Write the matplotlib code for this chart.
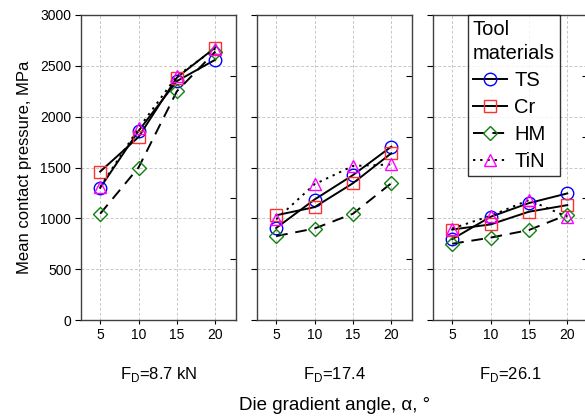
import matplotlib
matplotlib.use("Agg")
import matplotlib.pyplot as plt
from matplotlib.lines import Line2D

plt.rcParams['font.family'] = ['Liberation Sans', 'DejaVu Sans']

angles = [5, 10, 15, 20]
panel_labels = ["F$_\\mathregular{D}$=8.7 kN", "F$_\\mathregular{D}$=17.4", "F$_\\mathregular{D}$=26.1"]
materials = ["TS", "Cr", "HM", "TiN"]

ts_vals = [[1300, 1860, 2350, 2560], [905, 1185, 1425, 1705], [795, 1015, 1150, 1245]]
cr_vals = [[1460, 1800, 2385, 2680], [1030, 1110, 1345, 1640], [890, 940, 1065, 1130]]
hm_vals = [[1045, 1500, 2250, 2640], [825, 900, 1045, 1345], [750, 810, 885, 1035]]
tin_vals = [[1310, 1885, 2400, 2670], [990, 1335, 1515, 1530], [900, 1025, 1180, 1015]]

series = [ts_vals, cr_vals, hm_vals, tin_vals]
colors = ["#0000ff", "#ff3030", "#108010", "#ff00ff"]
markers = ["o", "s", "D", "^"]
msizes = [9, 9, 7, 9]
styles = ["-", "-", (0, (6, 4)), (0, (1.2, 2.5))]

fig = plt.figure(figsize=(5.85, 4.18), dpi=100)
lefts = [81 / 585, 257 / 585, 433 / 585]
width = 155 / 585
bottom = (418 - 320) / 418
height = 305 / 418

for p in range(3):
    ax = fig.add_axes([lefts[p], bottom, width, height])
    for s in range(4):
        ax.plot(angles, series[s][p], linestyle=styles[s], color='black', lw=1.4,
                marker=markers[s], ms=msizes[s], mfc='none', mec=colors[s], mew=1.0, zorder=3)
    ax.set_xlim(2.5, 22.7)
    ax.set_ylim(0, 3000)
    ax.set_xticks(angles)
    ax.set_yticks(range(0, 3001, 500))
    ax.grid(True, color='#c8c8c8', linestyle=(0, (3, 2)), lw=0.7)
    ax.tick_params(axis='x', direction='out', length=3, labelsize=10, pad=3)
    ax.tick_params(axis='y', direction='out', length=4, labelsize=10, pad=3)
    if p > 0:
        ax.tick_params(axis='y', labelleft=False)
    sec = ax.secondary_yaxis('right')
    sec.set_yticks([600, 1200, 1800, 2400])
    sec.tick_params(direction='in', length=4, labelright=False)
    sec.spines['right'].set_visible(False)
    for sp in ax.spines.values():
        sp.set_color('#404040')
        sp.set_linewidth(1.0)
    cx = lefts[p] + width / 2
    fig.text(cx, (418 - 375) / 418, panel_labels[p], ha='center', va='center', fontsize=12)
    if p == 0:
        ax.set_ylabel("Mean contact pressure, MPa", fontsize=12, labelpad=6)
    if p == 2:
        handles = [Line2D([], [], linestyle=styles[s], color='black', lw=1.4, marker=markers[s],
                          ms=msizes[s], mfc='none', mec=colors[s], mew=1.0) for s in range(4)]
        leg = ax.legend(handles, materials, title="Tool\nmaterials", loc='upper left',
                        bbox_to_anchor=(0.225, 1.0), fontsize=14.5, title_fontsize=14.5,
                        frameon=True, fancybox=False, edgecolor='black', handlelength=1.7,
                        borderpad=0.25, labelspacing=0.4, handletextpad=0.35, borderaxespad=0)
        leg._legend_box.align = 'left'
        leg.get_title().set_linespacing(1.3)
        leg.get_frame().set_linewidth(1.0)

fig.text(0.5 * (lefts[0] + lefts[2] + width), (418 - 405) / 418, "Die gradient angle, α, °",
         ha='center', va='center', fontsize=13.5)

fig.savefig("out.png", dpi=100)
